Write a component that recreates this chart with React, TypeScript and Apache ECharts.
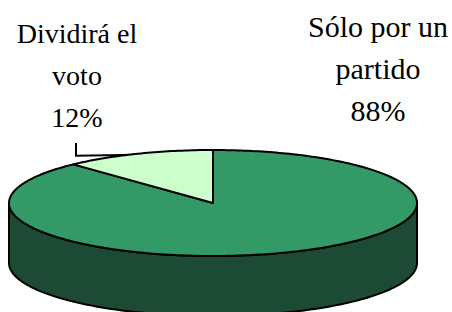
import React, { useEffect, useRef } from 'react';
import * as echarts from 'echarts';

// Data (Excel order: first slice starts at 12 o'clock, clockwise)
const categories = ['Sólo por un\npartido', 'Dividirá el\nvoto'];
const values = [88, 12];

// Styles / layout
const sliceColors = ['#339966', '#CCFFCC'];
const sideColors = ['#1C4A34', '#7A997A'];
const CX = 213;
const CY = 203;
const RX = 204;
const RY = 53;
const DEPTH = 60;
const labelAnchors = [
  [378, 11],
  [77, 19],
];
const labelFontSizes = [30, 28];
const LINE_GAP = 42;
const showLeader = [false, true];

const total = values.reduce((a, b) => a + b, 0);
const startAngles: number[] = [];
{
  let acc = 0;
  values.forEach((v) => {
    startAngles.push((acc / total) * 360);
    acc += v;
  });
}

function pt(tDeg: number, dy = 0): number[] {
  const t = (tDeg * Math.PI) / 180;
  return [CX + RX * Math.sin(t), CY - RY * Math.cos(t) + dy];
}

function arc(a0: number, a1: number, dy = 0): number[][] {
  const pts: number[][] = [];
  const n = Math.max(2, Math.ceil((a1 - a0) / 1));
  for (let k = 0; k <= n; k++) pts.push(pt(a0 + ((a1 - a0) * k) / n, dy));
  return pts;
}

export default function App() {
  const ref = useRef<HTMLDivElement>(null);
  useEffect(() => {
    if (!ref.current) return;
    const chart = echarts.init(ref.current, undefined, { renderer: 'svg' });
    const data = values.map((v, i) => [i, v]);

    // Labels built from the data arrays
    const labelGraphics: any[] = [];
    values.forEach((v, i) => {
      const a0 = startAngles[i];
      const a1 = a0 + (v / total) * 360;
      const pct = Math.round((v / total) * 100) + '%';
      const [lx, ly] = labelAnchors[i];
      const lines = (categories[i] + '\n' + pct).split('\n');
      lines.forEach((line, k) => {
        labelGraphics.push({
          type: 'text',
          x: lx,
          y: ly + k * LINE_GAP,
          silent: true,
          style: {
            text: line,
            fill: '#000',
            fontFamily: 'Liberation Serif',
            fontSize: labelFontSizes[i],
            align: 'center',
            verticalAlign: 'top',
          },
        });
      });
      if (showLeader[i]) {
        const mid = pt((a0 + a1) / 2);
        labelGraphics.push({
          type: 'polyline',
          silent: true,
          shape: { points: [[lx - 1, 143], [lx - 1, mid[1] + 2], [mid[0], mid[1] + 1]] },
          style: { stroke: '#000', lineWidth: 2, fill: 'none' },
        });
      }
    });

    chart.setOption({
      animation: false,
      backgroundColor: '#ffffff',
      graphic: { elements: labelGraphics },
      series: [
        {
          type: 'custom',
          name: 'side',
          coordinateSystem: 'none',
          silent: true,
          z: 1,
          data,
          renderItem: (params: any, api: any) => {
            const i = params.dataIndex;
            const v = api.value(1);
            const a0 = startAngles[i];
            const a1 = a0 + (v / total) * 360;
            const s0 = Math.max(a0, 90);
            const s1 = Math.min(a1, 270);
            if (s0 >= s1) return { type: 'group', children: [] };
            const top = arc(s0, s1, 0);
            const bottom = arc(s0, s1, DEPTH).reverse();
            return {
              type: 'polygon',
              shape: { points: top.concat(bottom) },
              style: { fill: sideColors[i], stroke: '#000', lineWidth: 2, lineJoin: 'round' },
            };
          },
        },
        {
          type: 'custom',
          name: 'top',
          coordinateSystem: 'none',
          silent: true,
          z: 2,
          data,
          renderItem: (params: any, api: any) => {
            const i = params.dataIndex;
            const v = api.value(1);
            const a0 = startAngles[i];
            const a1 = a0 + (v / total) * 360;
            const pts = [[CX, CY]].concat(arc(a0, a1, 0));
            return {
              type: 'polygon',
              shape: { points: pts },
              style: { fill: sliceColors[i], stroke: '#000', lineWidth: 2, lineJoin: 'round' },
            };
          },
        },
      ],
    });
    return () => chart.dispose();
  }, []);
  return (
    <div
      ref={ref}
      style={{ position: 'fixed', left: 0, top: 0, width: 452, height: 312, background: '#fff' }}
    />
  );
}
